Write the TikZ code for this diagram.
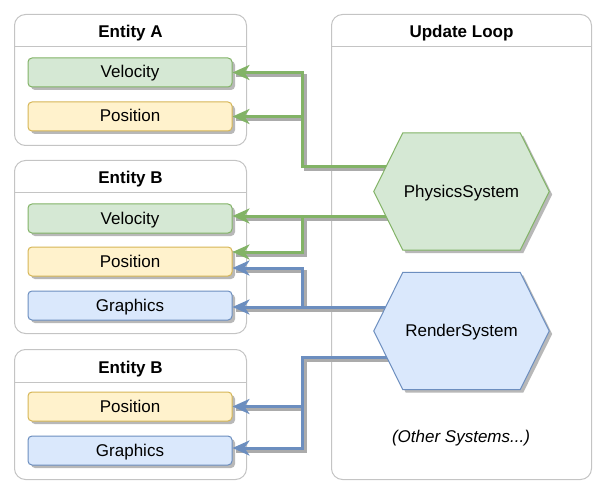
\documentclass[tikz,border=0pt]{standalone}
\usepackage{fontspec}
\setmainfont{Liberation Sans}
\usetikzlibrary{arrows.meta,shadows,calc}
\definecolor{gfill}{HTML}{D5E8D4}\definecolor{gline}{HTML}{82B366}
\definecolor{yfill}{HTML}{FFF2CC}\definecolor{yline}{HTML}{D6B656}
\definecolor{bfill}{HTML}{DAE8FC}\definecolor{bline}{HTML}{6C8EBF}
\definecolor{cline}{HTML}{C4C4C4}
\definecolor{shadowc}{HTML}{B8B8B8}
\definecolor{eshadowc}{HTML}{ABABAB}
\begin{document}
\begin{tikzpicture}[x=1pt,y=-1pt,
  txt/.style={font=\fontsize{17}{20}\selectfont, text=black, text height=12pt, text depth=1pt},
  hdr/.style={txt, font=\fontsize{17}{20}\selectfont\bfseries},
  container/.style={draw=cline, line width=1pt, rounded corners=11pt, fill=white, minimum width=232pt, inner sep=0pt, anchor=north west},
  comp/.style={txt, rectangle, rounded corners=4pt, minimum width=204pt, minimum height=29pt, inner sep=0pt, line width=1pt,
    drop shadow={shadow xshift=3pt, shadow yshift=-3pt, fill=shadowc, opacity=1}},
  green/.style={comp, draw=gline, fill=gfill},
  yellow/.style={comp, draw=yline, fill=yfill},
  blue/.style={comp, draw=bline, fill=bfill},
  hexbox/.style={minimum width=175pt, minimum height=117pt, inner sep=0pt},
  eshadow/.style={draw=eshadowc, line width=3pt, transform canvas={xshift=3pt,yshift=-3pt}},
  gedge/.style={draw=gline, line width=3pt, -{Stealth[length=17pt,width=15pt,inset=5pt]}},
  bedge/.style={draw=bline, line width=3pt, -{Stealth[length=17pt,width=15pt,inset=5pt]}},
]
\useasboundingbox (0,0) rectangle (610,497);
% containers
\node[container, minimum height=131pt] (entA) at (14,14) {};
\draw[cline, line width=1pt] ($(entA.north west)+(0,33)$) -- ($(entA.north east)+(0,33)$);
\node[hdr] (entAt) at ($(entA.north)+(0,18.5)$) {Entity A};
\node[container, minimum height=173pt] (entB) at (14,160) {};
\draw[cline, line width=1pt] ($(entB.north west)+(0,33)$) -- ($(entB.north east)+(0,33)$);
\node[hdr] (entBt) at ($(entB.north)+(0,18.5)$) {Entity B};
\node[container, minimum height=130pt] (entC) at (14,349) {};
\draw[cline, line width=1pt] ($(entC.north west)+(0,33)$) -- ($(entC.north east)+(0,33)$);
\node[hdr] (entCt) at ($(entC.north)+(0,18.5)$) {Entity B};
\node[container, minimum width=260pt, minimum height=465pt] (loop) at (331,14) {};
\draw[cline, line width=1pt] ($(loop.north west)+(0,33)$) -- ($(loop.north east)+(0,33)$);
\node[hdr] (loopt) at ($(loop.north)+(0,18.5)$) {Update Loop};
% components
\node[green]  (velA) at (130,72.5) {Velocity};
\node[yellow] (posA) at (130,116.5) {Position};
\node[green]  (velB) at (130,218.5) {Velocity};
\node[yellow] (posB) at (130,261.5) {Position};
\node[blue]   (grB)  at (130,305.5) {Graphics};
\node[yellow] (posC) at (130,406.5) {Position};
\node[blue]   (grC)  at (130,450.5) {Graphics};
% systems (placeholders)
\node[hexbox] (phys) at (461.5,191.5) {};
\node[hexbox] (rend) at (461.5,331) {};
\coordinate (p1) at ($(phys.west)+(18,-24.5)$);
\coordinate (p2) at ($(phys.west)+(18,24.5)$);
\coordinate (r1) at ($(rend.west)+(18,-24)$);
\coordinate (r2) at ($(rend.west)+(18,26)$);
% edge shadows
\draw[eshadow] (p1) -- ++(-89,0) |- (velA.east);
\draw[eshadow] (p1) -- ++(-89,0) |- (posA.east);
\draw[eshadow] (p2) -- (p2 -| velB.east);
\draw[eshadow] (p2) -- ++(-89,0) |- ($(posB.east)+(0,-9.5)$);
\draw[eshadow] (r1) -- (r1 -| grB.east);
\draw[eshadow] (r1) -- ++(-89,0) |- ($(posB.east)+(0,6.5)$);
\draw[eshadow] (r2) -- ++(-89,0) |- (posC.east);
\draw[eshadow] (r2) -- ++(-89,0) |- ($(grC.east)+(0,-2.5)$);
% edges
\draw[gedge] (p1) -- ++(-89,0) |- (velA.east);
\draw[gedge] (p1) -- ++(-89,0) |- (posA.east);
\draw[gedge] (p2) -- (p2 -| velB.east);
\draw[gedge] (p2) -- ++(-89,0) |- ($(posB.east)+(0,-9.5)$);
\draw[bedge] (r1) -- (r1 -| grB.east);
\draw[bedge] (r1) -- ++(-89,0) |- ($(posB.east)+(0,6.5)$);
\draw[bedge] (r2) -- ++(-89,0) |- (posC.east);
\draw[bedge] (r2) -- ++(-89,0) |- ($(grC.east)+(0,-2.5)$);
% hexagons
\foreach \n/\f/\d in {phys/gfill/gline, rend/bfill/bline}{
  \fill[shadowc, transform canvas={xshift=3pt,yshift=-3pt}] (\n.west) -- ($(\n.north west)+(29,0)$) -- ($(\n.north east)+(-29,0)$) -- (\n.east) -- ($(\n.south east)+(-29,0)$) -- ($(\n.south west)+(29,0)$) -- cycle;
  \filldraw[fill=\f, draw=\d, line width=1pt] (\n.west) -- ($(\n.north west)+(29,0)$) -- ($(\n.north east)+(-29,0)$) -- (\n.east) -- ($(\n.south east)+(-29,0)$) -- ($(\n.south west)+(29,0)$) -- cycle;
}
\node[txt] (physt) at (phys) {PhysicsSystem};
\node[txt] (rendt) at (rend) {RenderSystem};
\node[txt, font=\fontsize{17}{20}\selectfont\itshape] (other) at (461,437) {(Other Systems...)};
\end{tikzpicture}
\end{document}
